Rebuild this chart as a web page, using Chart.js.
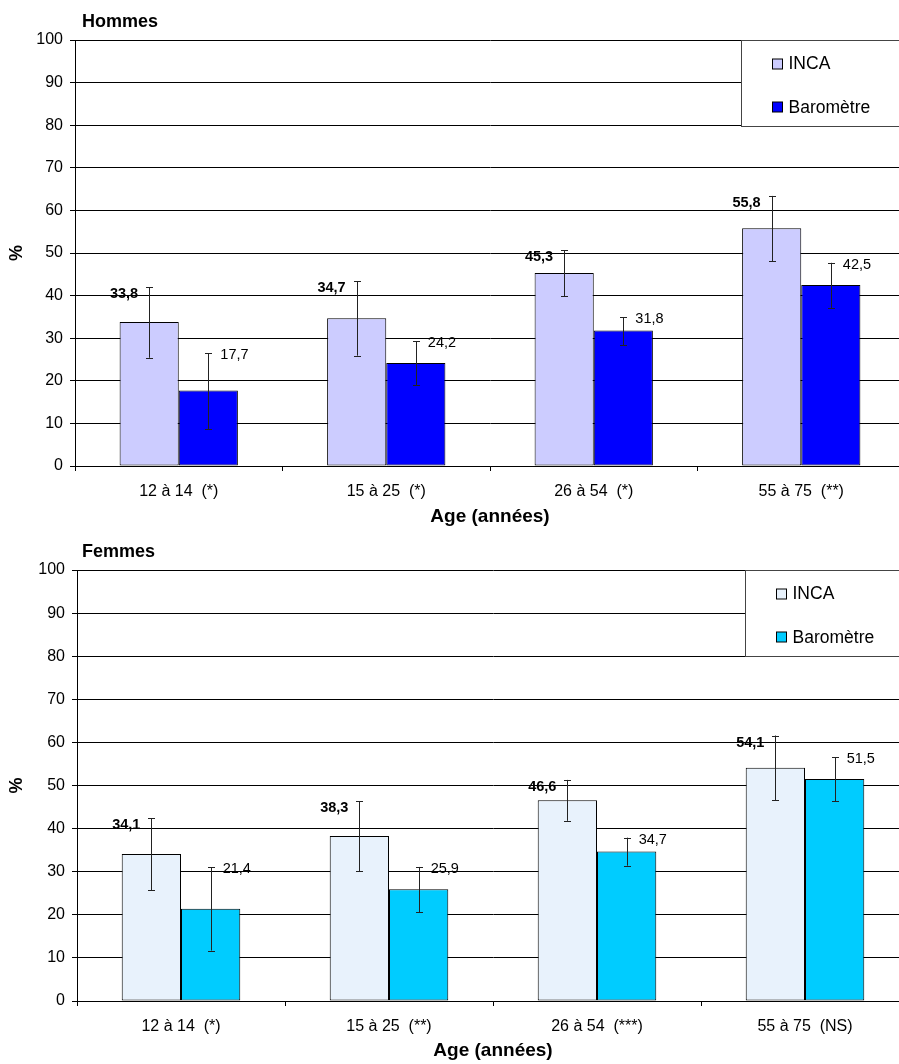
<!DOCTYPE html>
<html lang="fr">
<head>
<meta charset="utf-8">
<title>INCA / Baromètre</title>
<script src="https://cdn.jsdelivr.net/npm/chart.js@4/dist/chart.umd.min.js"></script>
<style>
  html, body { margin: 0; padding: 0; background: #fff; overflow: hidden; }
  #page { position: relative; width: 899px; height: 1064px; overflow: hidden; }
  #hommes { position: absolute; left: 0; top: 0; }
  #femmes { position: absolute; left: 0; top: 530px; }
</style>
</head>
<body>
<div id="page">
  <canvas id="hommes" width="905" height="530"></canvas>
  <canvas id="femmes" width="909" height="534"></canvas>
</div>
<script>
  // ---- données ----
  const AGES_HOMMES = ["12 à 14  (*)", "15 à 25  (*)", "26 à 54  (*)", "55 à 75  (**)"];
  const AGES_FEMMES = ["12 à 14  (*)", "15 à 25  (**)", "26 à 54  (***)", "55 à 75  (NS)"];

  const HOMMES_INCA = [33.8, 34.7, 45.3, 55.8];
  const HOMMES_INCA_BAS = [25.4, 25.9, 39.8, 48.1];
  const HOMMES_INCA_HAUT = [42.0, 43.4, 50.6, 63.4];
  const HOMMES_BARO = [17.7, 24.2, 31.8, 42.5];
  const HOMMES_BARO_BAS = [8.6, 18.9, 28.4, 37.1];
  const HOMMES_BARO_HAUT = [26.5, 29.3, 34.9, 47.7];

  const FEMMES_INCA = [34.1, 38.3, 46.6, 54.1];
  const FEMMES_INCA_BAS = [25.7, 30.1, 41.8, 46.6];
  const FEMMES_INCA_HAUT = [42.4, 46.4, 51.3, 61.6];
  const FEMMES_BARO = [21.4, 25.9, 34.7, 51.5];
  const FEMMES_BARO_BAS = [11.7, 20.6, 31.4, 46.4];
  const FEMMES_BARO_HAUT = [31.0, 31.1, 37.9, 56.5];

  const Y_MIN = 0, Y_MAX = 100, Y_STEP = 10;
  const SERIES = ["INCA", "Baromètre"];

  const FONT = "Arial, 'Liberation Sans', Helvetica, sans-serif";

  function fmt(v) { return v.toFixed(1).replace(".", ","); }

  // barres d'erreur + étiquettes de valeur + titre + légende encadrée
  const decorPlugin = {
    id: "decor",
    afterDatasetsDraw(chart, args, opts) {
      const ctx = chart.ctx;
      const y = chart.scales.y;
      ctx.save();
      chart.data.datasets.forEach((ds, di) => {
        const meta = chart.getDatasetMeta(di);
        meta.data.forEach((bar, i) => {
          const x = Math.round(bar.x) + 0.5;
          const top = y.getPixelForValue(ds.errHigh[i]);
          const bot = y.getPixelForValue(ds.errLow[i]);
          ctx.strokeStyle = "#222";
          ctx.lineWidth = 1;
          ctx.beginPath();
          ctx.moveTo(x, top); ctx.lineTo(x, bot);
          ctx.moveTo(x - 3.5, Math.round(top) + 0.5); ctx.lineTo(x + 3.5, Math.round(top) + 0.5);
          ctx.moveTo(x - 3.5, Math.round(bot) + 0.5); ctx.lineTo(x + 3.5, Math.round(bot) + 0.5);
          ctx.stroke();

          ctx.fillStyle = "#000";
          ctx.textBaseline = "middle";
          if (di === 0) {
            ctx.font = "bold 14.5px " + FONT;
            ctx.textAlign = "right";
            ctx.fillText(fmt(ds.data[i]), bar.x - 11, top + 7);
          } else {
            ctx.font = "14.5px " + FONT;
            ctx.textAlign = "left";
            ctx.fillText(fmt(ds.data[i]), bar.x + 12, top + 2);
          }
        });
      });

      // titre
      ctx.font = "bold 18px " + FONT;
      ctx.textAlign = "left";
      ctx.textBaseline = "middle";
      ctx.fillStyle = "#000";
      ctx.fillText(opts.title, 82, 22);

      // légende
      const area = chart.chartArea;
      const bw = 164, bh = 86;
      const bx = Math.round(area.right - bw) + 0.5;
      const by = Math.round(area.top) + 0.5;
      ctx.fillStyle = "#fff";
      ctx.fillRect(bx, by, bw + 2, bh);
      ctx.strokeStyle = "#444";
      ctx.strokeRect(bx, by, bw + 2, bh);
      ctx.font = "17.5px " + FONT;
      chart.data.datasets.forEach((ds, di) => {
        const cy = by + 23 + di * 43.5;
        ctx.fillStyle = ds.backgroundColor;
        ctx.fillRect(bx + 31, Math.round(cy - 5), 10, 10);
        ctx.strokeStyle = "#000";
        ctx.strokeRect(bx + 31, Math.round(cy - 5), 10, 10);
        ctx.fillStyle = "#000";
        ctx.fillText(ds.label, bx + 47, cy + 1);
      });
      ctx.restore();
    }
  };

  function makeChart(id, title, labels, cols, series, yWidth, xHeight) {
    const datasets = series.map((s, i) => ({
      label: SERIES[i],
      data: s.values,
      errLow: s.low,
      errHigh: s.high,
      backgroundColor: cols[i],
      borderColor: "#000",
      borderWidth: 1,
      borderSkipped: false,
      categoryPercentage: 0.57,
      barPercentage: 1.0
    }));

    return new Chart(document.getElementById(id), {
      type: "bar",
      data: { labels, datasets },
      plugins: [decorPlugin],
      options: {
        responsive: false,
        animation: false,
        events: [],
        layout: { padding: { top: 40, left: 0, right: 0, bottom: 0 } },
        plugins: {
          legend: { display: false },
          tooltip: { enabled: false },
          decor: { title }
        },
        scales: {
          x: {
            offset: true,
            border: { display: true, color: "#000", width: 1 },
            grid: { offset: true, drawOnChartArea: false, drawTicks: true, tickLength: 5, color: "#000" },
            ticks: { color: "#000", padding: 11, font: { family: FONT, size: 16 }, maxRotation: 0, autoSkip: false },
            title: {
              display: true, text: "Age (années)", color: "#000",
              font: { family: FONT, size: 19, weight: "bold" }, padding: { top: 2, bottom: 2 }
            },
            afterFit(scale) { scale.height = xHeight; }
          },
          y: {
            min: Y_MIN, max: Y_MAX,
            border: { display: true, color: "#000", width: 1 },
            grid: { color: "#000", lineWidth: 1, drawTicks: true, tickLength: 5 },
            ticks: { stepSize: Y_STEP, color: "#000", padding: 7, font: { family: FONT, size: 16 } },
            title: {
              display: true, text: "%", color: "#000",
              font: { family: FONT, size: 18, weight: "bold" }, padding: { top: 6, bottom: 4 }
            },
            afterFit(scale) { scale.width = yWidth; }
          }
        }
      }
    });
  }

  makeChart("hommes", "Hommes", AGES_HOMMES, ["#CCCCFF", "#0000FF"], [
    { values: HOMMES_INCA, low: HOMMES_INCA_BAS, high: HOMMES_INCA_HAUT },
    { values: HOMMES_BARO, low: HOMMES_BARO_BAS, high: HOMMES_BARO_HAUT }
  ], 75, 64);

  makeChart("femmes", "Femmes", AGES_FEMMES, ["#E8F2FC", "#00CCFF"], [
    { values: FEMMES_INCA, low: FEMMES_INCA_BAS, high: FEMMES_INCA_HAUT },
    { values: FEMMES_BARO, low: FEMMES_BARO_BAS, high: FEMMES_BARO_HAUT }
  ], 77, 63);
</script>
</body>
</html>
